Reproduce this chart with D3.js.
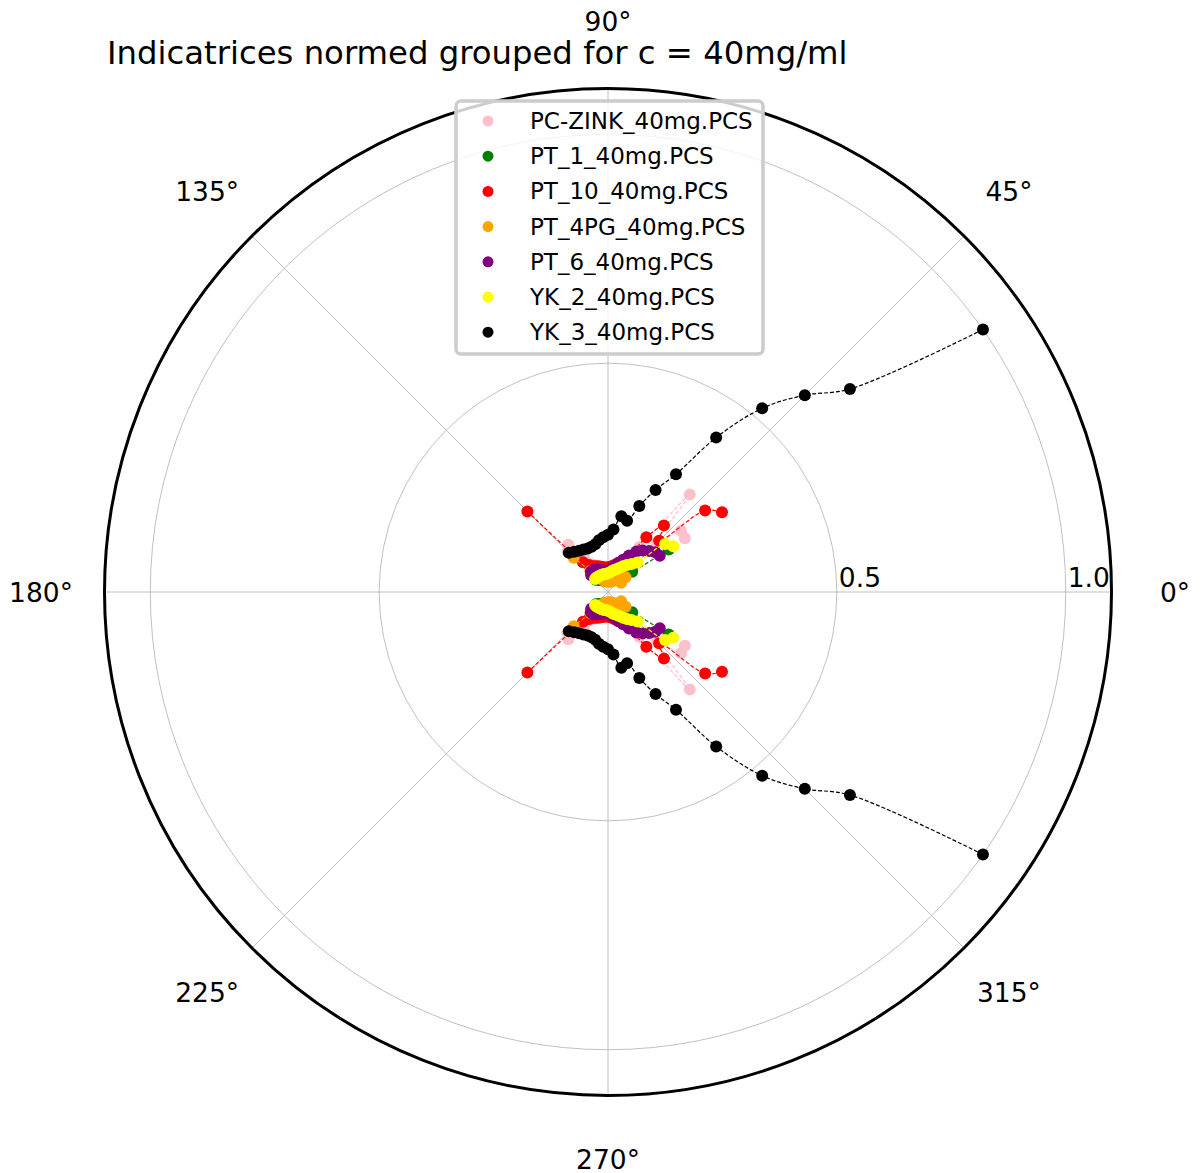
<!DOCTYPE html>
<html>
<head>
<meta charset="utf-8">
<script src="https://cdn.jsdelivr.net/npm/d3@7"></script>
<style>
  body { margin: 0; background: #fff; }
  text { font-family: "DejaVu Sans", sans-serif; fill: #000; }
</style>
</head>
<body>
<script>
"use strict";

// measurement angles (degrees), the lower half mirrors them at 360 - angle
var angles = [35, 40, 45, 50, 55, 60, 65, 70, 75, 80, 85, 90, 95, 100, 105, 110, 115, 120, 125, 130, 135];

var seriesNames = ["PC-ZINK_40mg.PCS", "PT_1_40mg.PCS", "PT_10_40mg.PCS", "PT_4PG_40mg.PCS",
                   "PT_6_40mg.PCS", "YK_2_40mg.PCS", "YK_3_40mg.PCS"];
var seriesColors = ["pink", "green", "red", "orange", "purple", "yellow", "black"];

var pcZink = [0.205, 0.208, 0.150, 0.278, 0.120, 0.090, 0.070, 0.060, 0.055, 0.050, 0.050, 0.050, 0.050, 0.050, 0.052, 0.055, 0.060, 0.070, 0.090, 0.135, 0.125];
var pt1    = [0.162, 0.069, 0.055, 0.045, 0.040, 0.036, 0.033, 0.030, 0.028, 0.026, 0.025, 0.025, 0.025, 0.025, 0.026, 0.027, 0.028, 0.030, 0.032, 0.035, 0.038];
var pt10   = [0.304, 0.277, 0.158, 0.190, 0.146, 0.087, 0.075, 0.068, 0.062, 0.058, 0.055, 0.054, 0.054, 0.055, 0.057, 0.060, 0.062, 0.065, 0.072, 0.085, 0.249];
var pt4pg  = [0.035, 0.050, 0.048, 0.040, 0.035, 0.030, 0.027, 0.025, 0.024, 0.023, 0.023, 0.023, 0.023, 0.024, 0.025, 0.027, 0.030, 0.035, 0.042, 0.060, 0.106];
var pt6    = [0.138, 0.135, 0.127, 0.118, 0.108, 0.092, 0.078, 0.068, 0.060, 0.053, 0.048, 0.045, 0.045, 0.047, 0.049, 0.052, 0.054, 0.056, 0.058, 0.058, 0.052];
var yk2    = [0.174, 0.163, 0.091, 0.080, 0.072, 0.065, 0.058, 0.053, 0.050, 0.046, 0.043, 0.041, 0.040, 0.040, 0.040, 0.040, 0.040, 0.040, 0.040, 0.040, 0.040];
var yk3    = [1.000, 0.690, 0.608, 0.524, 0.412, 0.297, 0.246, 0.200, 0.161, 0.168, 0.137, 0.125, 0.120, 0.115, 0.108, 0.105, 0.105, 0.107, 0.110, 0.115, 0.121];

var seriesValues = [pcZink, pt1, pt10, pt4pg, pt6, yk2, yk3];

var angleTicks = [0, 45, 90, 135, 180, 225, 270, 315];
var radialTicks = [0.5, 1.0];

var width = 1204, height = 1173;
var cx = 608, cy = 592, outerR = 503.5, rMax = 1.1;

var svg = d3.select("body").append("svg")
    .attr("width", width).attr("height", height);

// matplotlib style: 0 deg at 3 o'clock, counter clockwise
var aScale = d3.scaleLinear().domain([0, 360]).range([Math.PI / 2, Math.PI / 2 - 2 * Math.PI]);
var rScale = d3.scaleLinear().domain([0, rMax]).range([0, outerR]);

var g = svg.append("g").attr("transform", "translate(" + cx + "," + cy + ")");

// grid
g.selectAll(".rgrid").data(radialTicks).enter().append("circle")
    .attr("r", function(d){ return rScale(d); })
    .attr("fill", "none").attr("stroke", "#b0b0b0").attr("stroke-width", 0.8);

g.selectAll(".agrid").data(angleTicks).enter().append("line")
    .attr("x1", 0).attr("y1", 0)
    .attr("x2", function(d){ return d3.pointRadial(aScale(d), outerR)[0]; })
    .attr("y2", function(d){ return d3.pointRadial(aScale(d), outerR)[1]; })
    .attr("stroke", "#b0b0b0").attr("stroke-width", 0.8);

// angle labels (the top one sits a little higher so it clears the title)
g.selectAll(".alabel").data(angleTicks).enter().append("text")
    .attr("x", function(d){ return d3.pointRadial(aScale(d), 567)[0]; })
    .attr("y", function(d){ return d3.pointRadial(aScale(d), d === 90 ? 571 : 567)[1]; })
    .attr("text-anchor", "middle").attr("dominant-baseline", "central")
    .attr("font-size", 26.5)
    .text(function(d){ return d + "°"; });

// radial labels
g.selectAll(".rlabel").data(radialTicks).enter().append("text")
    .attr("x", function(d){ return rScale(d) + 2; })
    .attr("y", -5)
    .attr("font-size", 26.5)
    .text(function(d){ return d.toFixed(1); });

// series
var line = d3.lineRadial()
    .angle(function(d){ return aScale(d.a); })
    .radius(function(d){ return rScale(d.v); })
    .curve(d3.curveCatmullRom);

seriesValues.forEach(function(vals, i){
    var upper = angles.map(function(a, k){ return {a: a, v: vals[k]}; });
    var lower = angles.map(function(a, k){ return {a: 360 - a, v: vals[k]}; });
    var sg = g.append("g");
    [upper, lower].forEach(function(half){
        sg.append("path").attr("d", line(half))
            .attr("fill", "none").attr("stroke", seriesColors[i])
            .attr("stroke-width", 1.2).attr("stroke-dasharray", "4,2");
    });
    sg.selectAll("circle").data(upper.concat(lower)).enter().append("circle")
        .attr("cx", function(d){ return d3.pointRadial(aScale(d.a), rScale(d.v))[0]; })
        .attr("cy", function(d){ return d3.pointRadial(aScale(d.a), rScale(d.v))[1]; })
        .attr("r", 6)
        .attr("fill", seriesColors[i]);
});

// outer frame
g.append("circle").attr("r", outerR)
    .attr("fill", "none").attr("stroke", "#000").attr("stroke-width", 3);

// title
svg.append("text").attr("x", 107).attr("y", 64)
    .attr("font-size", 32.3)
    .text("Indicatrices normed grouped for c = 40mg/ml");

// legend
var legend = svg.append("g").attr("transform", "translate(456,101)");
legend.append("rect")
    .attr("width", 307).attr("height", 253).attr("rx", 5)
    .attr("fill", "#fff").attr("fill-opacity", 0.8)
    .attr("stroke", "#cccccc").attr("stroke-width", 3.5);

var items = legend.selectAll(".item").data(seriesNames).enter().append("g")
    .attr("transform", function(d, i){ return "translate(0," + (20 + i * 35.2) + ")"; });
items.append("circle").attr("cx", 32).attr("cy", 0).attr("r", 5.5)
    .attr("fill", function(d, i){ return seriesColors[i]; });
items.append("text").attr("x", 74).attr("y", 8)
    .attr("font-size", 23)
    .text(function(d){ return d; });
</script>
</body>
</html>
